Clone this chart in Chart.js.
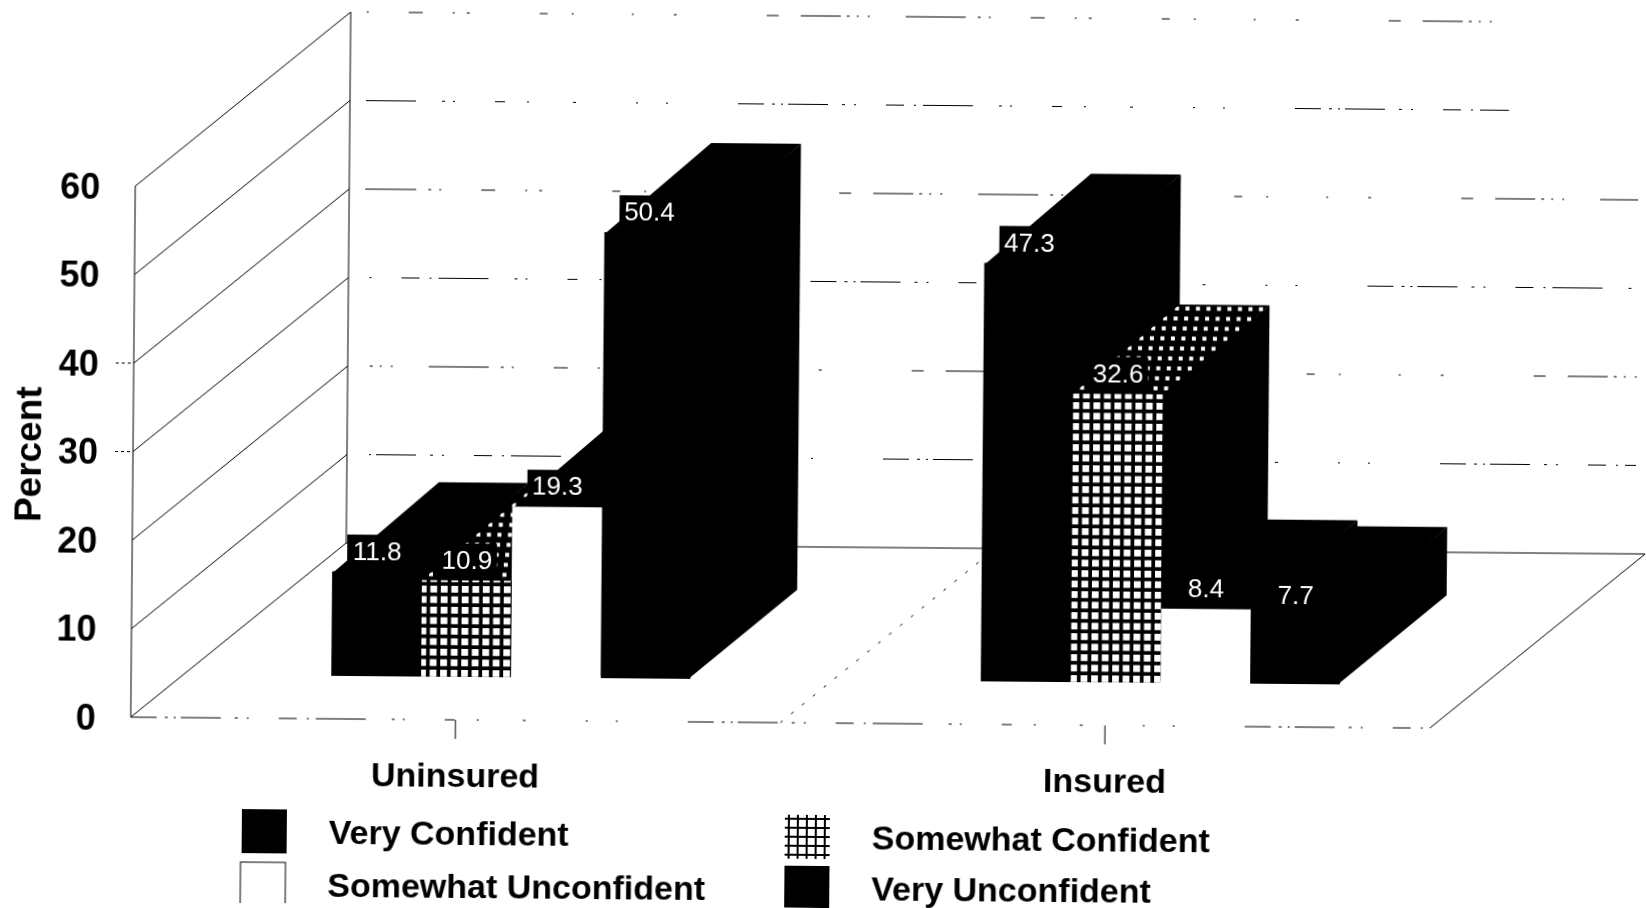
<!DOCTYPE html>
<html>
<head>
<meta charset="utf-8">
<title>Confidence by insurance status</title>
<script src="https://cdn.jsdelivr.net/npm/chart.js@4/dist/chart.umd.min.js"></script>
<style>
  html, body { margin: 0; padding: 0; background: #fff; overflow: hidden; }
  /* the scan sits slightly crooked, so the whole canvas is turned a little */
  #chart { display: block; transform: rotate(0.487deg); transform-origin: 823px 454px; }
</style>
</head>
<body>
<canvas id="chart" width="1646" height="908"></canvas>
<script>
var categories = ["Uninsured", "Insured"];
var veryConfident = [11.8, 47.3];
var somewhatConfident = [10.9, 32.6];
var somewhatUnconfident = [19.3, 8.4];
var veryUnconfident = [50.4, 7.7];
var seriesNames = ["Very Confident", "Somewhat Confident", "Somewhat Unconfident", "Very Unconfident"];
var yTicks = [0, 10, 20, 30, 40, 50, 60];
var faintTicks = [30, 40];

var FONT = '"Liberation Sans", Arial, sans-serif';

// offset of the bars' front plane from the front of the floor
var planeX = 55, planeY = 43;
// full depth of the floor / walls
var wallX = 214, wallY = 176;
// depth of one bar
var barX = 106, barY = 90;

// white squares on black, size = tile size, cell = white part
function gridPattern(size, cell) {
    var c = document.createElement('canvas');
    c.width = size * 2; c.height = size * 2;
    var g = c.getContext('2d');
    g.fillStyle = '#000';
    g.fillRect(0, 0, size * 2, size * 2);
    g.fillStyle = '#fff';
    for (var i = 0; i < 2; i++) {
        for (var j = 0; j < 2; j++) g.fillRect(1 + i * size, 1 + j * size, cell, cell);
    }
    return document.createElement('canvas').getContext('2d').createPattern(c, 'repeat');
}

var gridFill = gridPattern(10.5, 6.8);
var swatchFill = gridPattern(9, 7);

function poly(ctx, pts, fill) {
    ctx.beginPath();
    ctx.moveTo(pts[0][0], pts[0][1]);
    for (var i = 1; i < pts.length; i++) ctx.lineTo(pts[i][0], pts[i][1]);
    ctx.closePath();
    ctx.fillStyle = fill;
    ctx.fill();
}

function line(ctx, x1, y1, x2, y2, dash, offset) {
    ctx.setLineDash(dash || []);
    ctx.lineDashOffset = offset || 0;
    ctx.beginPath();
    ctx.moveTo(x1, y1);
    ctx.lineTo(x2, y2);
    ctx.stroke();
    ctx.setLineDash([]);
}

// walls and floor, behind everything
var framePlugin = {
    id: 'frame',
    beforeDatasetsDraw: function(chart) {
        var ctx = chart.ctx, a = chart.chartArea, y = chart.scales.y, x = chart.scales.x;
        var left = a.left - planeX, right = a.right - planeX;
        var zero = y.getPixelForValue(0) + planeY;
        var brokenA = [26, 8, 3, 6, 2, 5, 40, 14, 3, 9, 2, 30, 18, 10, 2, 7, 50, 26, 3, 8, 2, 40, 10, 22, 2, 44, 3, 60, 2, 28, 2, 70];
        var brokenB = [12, 22, 40, 6, 3, 7, 2, 9, 2, 36, 60, 12, 3, 8, 2, 40, 14, 30, 2, 12, 3, 70, 8, 24, 2, 58, 2, 40, 3, 90];
        ctx.save();
        ctx.strokeStyle = '#000';
        ctx.lineWidth = 1;
        yTicks.forEach(function(t, i) {
            var py = y.getPixelForValue(t) + planeY;
            line(ctx, left, py, left + wallX, py - wallY);
            // back wall lines only survive as broken dashes in the scan
            if (t > 0) line(ctx, left + wallX + 16, py - wallY, right + wallX - (t > 40 ? 140 : 10), py - wallY, i % 2 ? brokenA : brokenB, i * 37);
        });
        faintTicks.forEach(function(t) {
            var py = y.getPixelForValue(t) + planeY;
            line(ctx, left - 18, py, left, py, [3, 3]);
        });
        var top = y.getPixelForValue(60) + planeY;
        line(ctx, left, zero, left, top);
        line(ctx, left + wallX, zero - wallY, left + wallX, top - wallY);
        // floor
        line(ctx, left + wallX, zero - wallY, right + wallX, zero - wallY);
        line(ctx, left, zero, right, zero, brokenA, 0);
        line(ctx, right, zero, right + wallX, zero - wallY);
        var mid = (x.getPixelForValue(0) + x.getPixelForValue(1)) / 2 - planeX;
        line(ctx, mid, zero, mid + wallX, zero - wallY, [3, 11]);
        // category ticks
        categories.forEach(function(c, i) {
            var px = x.getPixelForValue(i) - planeX;
            line(ctx, px, zero, px, zero + 19);
        });
        ctx.restore();

        // tops and sides of the bars, the fronts come from the library on top
        categories.forEach(function(c, index) {
            chart.data.datasets.forEach(function(ds, d) {
                var el = chart.getDatasetMeta(d).data[index];
                var l = el.x - el.width / 2, r = el.x + el.width / 2, t = el.y, b = el.base;
                // both run a little under the front so no pale seam shows
                poly(ctx, [[r - 2, t], [r + barX, t - barY], [r + barX, b - barY], [r - 2, b]], '#000');
                poly(ctx, [[l, t + 2], [r, t + 2], [r + barX, t - barY], [l + barX, t - barY]], '#000');
                if (d === 1) dottedTop(ctx, l, r, t, el.width);
            });
        });
    }
};

// the patterned bar's top face keeps only small dots in the scan
function dottedTop(ctx, l, r, t, w) {
    ctx.save();
    ctx.beginPath();
    ctx.moveTo(l, t);
    ctx.lineTo(r, t);
    ctx.lineTo(r + barX, t - barY);
    ctx.lineTo(l + barX, t - barY);
    ctx.closePath();
    ctx.clip();
    ctx.fillStyle = '#fff';
    for (var row = 0; row * 10 < barY - 8; row++) {
        var rise = 6 + row * 10;
        for (var col = 0; col * 10.5 < w; col++) {
            ctx.fillRect(l + col * 10.5 + rise * barX / barY, t - rise - 2, 4, 4);
        }
    }
    ctx.restore();
}

// value labels sit on small black boxes, and the legend
var labelPlugin = {
    id: 'labels',
    afterDatasetsDraw: function(chart) {
        var ctx = chart.ctx;
        ctx.save();
        ctx.textAlign = 'center';
        ctx.textBaseline = 'middle';
        ctx.font = '26px ' + FONT;
        chart.data.datasets.forEach(function(ds, d) {
            chart.getDatasetMeta(d).data.forEach(function(el, i) {
                var cy = el.y - 19;
                ctx.fillStyle = '#000';
                ctx.fillRect(el.x - 30, cy - 18, 60, 36);
                ctx.fillStyle = '#fff';
                ctx.fillText(ds.data[i].toFixed(1), el.x, cy);
            });
        });
        // percent title
        ctx.translate(31, 461);
        ctx.rotate(-Math.PI / 2);
        ctx.fillStyle = '#000';
        ctx.font = 'bold 37px ' + FONT;
        ctx.fillText('Percent', 0, 0);
        ctx.restore();

        ctx.save();
        var spots = [[267, 836], [810, 837], [266, 889], [810, 888]];
        ctx.textBaseline = 'middle';
        ctx.font = 'bold 34px ' + FONT;
        chart.data.datasets.forEach(function(ds, d) {
            var sx = spots[d][0], sy = spots[d][1];
            ctx.fillStyle = d === 1 ? swatchFill : ds.backgroundColor;
            ctx.fillRect(sx - 22, sy - 22, 45, 44);
            if (d === 2) {
                ctx.strokeStyle = '#000';
                ctx.lineWidth = 1;
                ctx.strokeRect(sx - 22, sy - 22, 45, 44);
            }
            ctx.fillStyle = '#000';
            ctx.fillText(ds.label, sx + 65, sy + 3);
        });
        ctx.restore();
    }
};

new Chart(document.getElementById('chart'), {
    type: 'bar',
    data: {
        labels: categories,
        datasets: [
            { label: seriesNames[0], data: veryConfident, backgroundColor: '#000' },
            { label: seriesNames[1], data: somewhatConfident, backgroundColor: gridFill },
            { label: seriesNames[2], data: somewhatUnconfident, backgroundColor: '#fff' },
            { label: seriesNames[3], data: veryUnconfident, backgroundColor: '#000' }
        ]
    },
    plugins: [framePlugin, labelPlugin],
    options: {
        responsive: false,
        animation: false,
        layout: { padding: { top: 149, right: 159 } },
        plugins: { legend: { display: false }, tooltip: { enabled: false } },
        datasets: { bar: { barPercentage: 1, categoryPercentage: 0.553 } },
        scales: {
            x: {
                grid: { display: false },
                border: { display: false },
                afterFit: function(s) { s.height = 228; },
                ticks: {
                    color: '#000',
                    font: { family: FONT, size: 34, weight: 'bold' },
                    padding: 72,
                    labelOffset: -planeX,
                    maxRotation: 0,
                    autoSkip: false
                }
            },
            y: {
                min: 0,
                max: 60,
                grid: { display: false },
                border: { display: false },
                afterFit: function(s) { s.width = 188; },
                afterBuildTicks: function(s) { s.ticks = yTicks.map(function(v) { return { value: v }; }); },
                ticks: {
                    color: '#000',
                    font: { family: FONT, size: 36, weight: 'bold' },
                    padding: 82,
                    labelOffset: planeY + 3
                }
            }
        }
    }
});
</script>
</body>
</html>
